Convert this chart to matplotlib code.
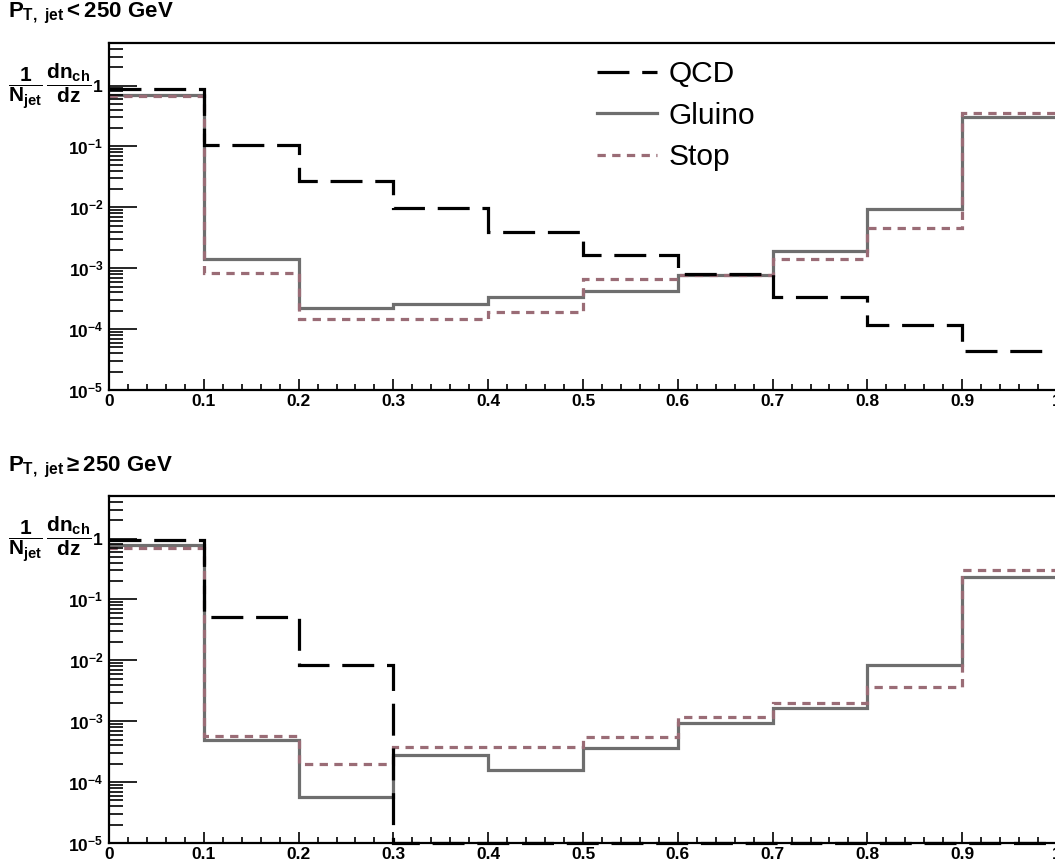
import matplotlib
matplotlib.use('Agg')
import matplotlib.pyplot as plt
import numpy as np
from matplotlib.ticker import LogLocator, MultipleLocator, FuncFormatter

plt.rcParams['font.family'] = ['Liberation Sans', 'DejaVu Sans']
plt.rcParams['mathtext.fontset'] = 'custom'
plt.rcParams['mathtext.rm'] = 'Liberation Sans:bold'
plt.rcParams['mathtext.it'] = 'Liberation Sans:bold'
plt.rcParams['mathtext.bf'] = 'Liberation Sans:bold'

# bin edges in z
edges = np.round(np.arange(0, 1.01, 0.1), 2)

# pT < 250 GeV
qcd_low = [0.89, 0.105, 0.0275, 0.0096, 0.0039, 0.00163, 0.0008, 0.00034, 0.000116, 0.000044]
gluino_low = [0.71, 0.0014, 0.00022, 0.00026, 0.000335, 0.00043, 0.00076, 0.0019, 0.0093, 0.30]
stop_low = [0.67, 0.00083, 0.000146, 0.000146, 0.00019, 0.00066, 0.00078, 0.0014, 0.0045, 0.35]

# pT >= 250 GeV (QCD empty above z = 0.3)
qcd_high = [0.96, 0.051, 0.0085, 0, 0, 0, 0, 0, 0, 0]
gluino_high = [0.77, 0.0005, 0.000056, 0.000276, 0.00016, 0.00036, 0.00094, 0.00165, 0.0085, 0.235]
stop_high = [0.70, 0.00058, 0.000197, 0.00038, 0.00038, 0.00056, 0.00118, 0.002, 0.0037, 0.31]

titles = [r'$P_{T,\ jet} < 250\ GeV$', r'$P_{T,\ jet} \geq 250\ GeV$']
labels = ['QCD', 'Gluino', 'Stop']

ymin, ymax = 1e-5, 5

W, H = 1055, 865
fig = plt.figure(figsize=(W / 100, H / 100), dpi=100)

# axes boxes in pixels: left, right, top, bottom
boxes = [(109, 1057, 43, 390), (109, 1057, 496, 843)]
title_y = [13, 467]

def ylab(v, pos):
    e = int(round(np.log10(v)))
    if e == 0:
        return r'$1$'
    return r'$10^{%d}$' % e

datasets = [(qcd_low, gluino_low, stop_low), (qcd_high, gluino_high, stop_high)]

for i, (l, r, t, b) in enumerate(boxes):
    ax = fig.add_axes([l / W, 1 - b / H, (r - l) / W, (b - t) / H])
    qcd, glu, stp = datasets[i]
    qcd = np.maximum(np.array(qcd, dtype=float), ymin)
    ax.stairs(qcd, edges, baseline=None, color='black', lw=2.3, linestyle=(0, (10, 4)),
              label=labels[0], clip_on=False, zorder=3)
    ax.stairs(glu, edges, baseline=None, color='#6e6e6e', lw=2.3, label=labels[1])
    ax.stairs(stp, edges, baseline=None, color='#9a6c76', lw=2.3, linestyle=(0, (2.6, 2)), label=labels[2])

    ax.set_yscale('log')
    ax.set_xlim(0, 1)
    ax.set_ylim(ymin, ymax)
    ax.yaxis.set_major_locator(LogLocator(base=10, numticks=10))
    ax.yaxis.set_minor_locator(LogLocator(base=10, subs=np.arange(2, 10), numticks=20))
    ax.yaxis.set_major_formatter(FuncFormatter(ylab))
    ax.xaxis.set_major_locator(MultipleLocator(0.1))
    ax.xaxis.set_minor_locator(MultipleLocator(0.02))
    ax.xaxis.set_major_formatter(FuncFormatter(lambda v, p: '%g' % round(v, 2)))
    ax.tick_params(axis='y', which='major', direction='in', length=20, width=1.2, pad=4, labelsize=12.5)
    ax.tick_params(axis='y', which='minor', direction='in', length=10, width=1.2)
    ax.tick_params(axis='x', which='major', direction='in', length=8, width=1.2, pad=3, labelsize=12.5)
    ax.tick_params(axis='x', which='minor', direction='in', length=4, width=1.2)
    for lab in ax.get_xticklabels():
        lab.set_fontweight('bold')
    for s in ax.spines.values():
        s.set_linewidth(1.6)

    fig.text(8 / W, 1 - title_y[i] / H, titles[i], fontsize=16, va='center', ha='left')
    fig.text(8 / W, 1 - (t + 43) / H, r'$\dfrac{1}{N_{jet}}\,\dfrac{dn_{ch}}{dz}$',
             fontsize=15, va='center', ha='left')

    if i == 0:
        ax.legend(loc='upper left', bbox_to_anchor=(0.502, 0.985), frameon=False,
                  fontsize=21.5, handlelength=2.0, handletextpad=0.4, labelspacing=0.45,
                  borderaxespad=0)

fig.savefig('out.png', dpi=100)
